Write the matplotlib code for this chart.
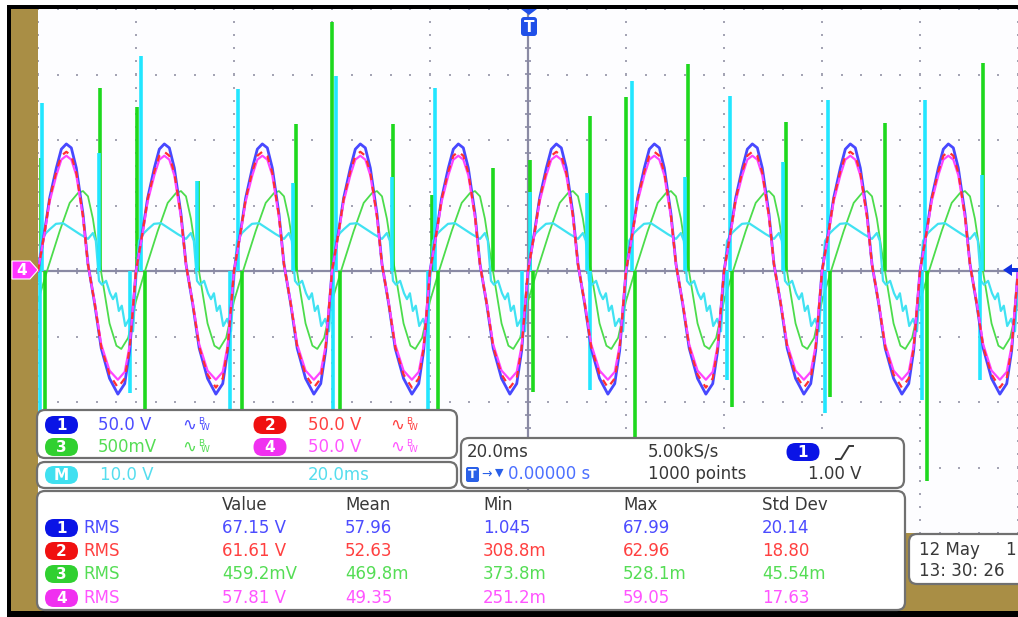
import matplotlib
matplotlib.use('Agg')
import matplotlib.pyplot as plt
from matplotlib.patches import FancyBboxPatch, Rectangle, Polygon
import numpy as np

W, H = 1018, 617

# acquisition settings
period = 20.0          # ms, 50 Hz mains
cycles = list(range(-5, 5))
vdiv = {'1': 50.0, '2': 50.0, '3': 0.5, '4': 50.0, 'M': 10.0}

# one mains cycle, starting at the ch1 rising zero crossing (ms, V)
cycle_t = [0, 1.36, 2.38, 3.74, 4.76, 5.78, 6.8, 7.82, 9.18, 10.2, 11.57, 12.9, 14.6, 16.3, 17.7, 18.7, 20]
ch1_cycle = [0, 30.5, 55.7, 78.6, 93, 97, 94, 78.6, 43.5, 5.3, -25, -59, -82, -94, -86, -61, 0]
ch2_cycle = [0, 30, 55, 76, 88, 91, 88, 75, 42, 5, -25, -58, -79, -89, -82, -59, 0]
ch4_cycle = [0, 29, 53, 73, 85, 88, 85, 73, 41, 5, -24, -56, -76, -83, -77, -57, 0]

ch3_t = [0, 1.84, 4.43, 6.47, 8.16, 9.18, 10.2, 11.2, 12.2, 13.3, 14.6, 16.0, 17.0, 18.4, 20]
ch3_cycle = [-0.23, 0, 0.305, 0.52, 0.595, 0.61, 0.57, 0.40, 0.15, -0.10, -0.40, -0.57, -0.595, -0.51, -0.23]

math_t = [0, 0.61, 1.63, 2.45, 3.67, 5.1, 6.53, 8.57, 10.2, 11.2, 11.8, 12.45, 13.06, 13.9,
          14.7, 15.3, 15.9, 16.5, 17.1, 17.8, 18.6, 19.4, 20]
math_cycle = [-1.5, 4.6, 5.8, 6.4, 7.2, 7.3, 6.6, 5.6, 4.9, 5.8, 4.6, -1.5, -2.1, -1.5,
              -3.4, -4.3, -3.4, -6.1, -5.3, -8.4, -7.3, -9.2, -1.5]

# switching transients on ch3 (ms, tip V)
ch3_spike_t = [-99.39, -87.35, -79.8, -67.35, -47.35, -40.0, -27.55, -19.6, -7.14, 0.41,
               12.65, 20.0, 32.65, 52.65, 72.86, 92.86,
               -98.57, -78.16, -58.37, -38.37, -18.37, 1.02, 21.84, 41.63, 61.63, 81.43]
ch3_spike_v = [0.86, 1.40, 1.25, 0.69, 1.12, 1.90, 1.12, 0.58, 0.79, 0.85,
               1.18, 1.33, 1.58, 1.14, 1.13, 1.59,
               -1.29, -1.29, -1.29, -1.29, -1.29, -0.92, -1.27, -1.04, -0.96, -1.60]

# transients on the math trace (ms, tip V)
math_spike_t = [-99.18, -87.55, -78.98, -67.55, -59.18, -47.96, -39.18, -27.76, -18.98, 0.41,
                12.04, 21.22, 32.04, 41.22, 52.04, 61.22, 81.0, 92.65,
                -99.59, -81.22, -60.82, -39.8, -20.41, -1.22, 12.6, 40.61, 60.61, 80.41, 92.2]
math_spike_v = [25.6, 18.0, 32.8, 13.7, 27.8, 13.4, 29.8, 14.4, 27.9, 12.0,
                11.9, 29.0, 14.4, 26.7, 16.6, 26.1, 26.1, 14.7,
                -23.5, -18.6, -21.2, -22.0, -21.2, -10.1, -18.2, -16.6, -21.7, -19.7, -16.6]

# channel / math settings
ch_labels = ['1', '2', '3', '4']
ch_scale_txt = ['50.0 V', '50.0 V', '500mV', '50.0 V']
math_scale_txt = '10.0 V'
math_time_txt = '20.0ms'

# measurement table
meas_header = ['Value', 'Mean', 'Min', 'Max', 'Std Dev']
rms_value = ['67.15 V', '61.61 V', '459.2mV', '57.81 V']
rms_mean = ['57.96', '52.63', '469.8m', '49.35']
rms_min = ['1.045', '308.8m', '373.8m', '251.2m']
rms_max = ['67.99', '62.96', '528.1m', '59.05']
rms_std = ['20.14', '18.80', '45.54m', '17.63']

badge_col = {'1': '#0a14e6', '2': '#f01010', '3': '#30d030', '4': '#f030f0', 'M': '#40e0f0'}
text_col = {'1': '#4c4cff', '2': '#ff4040', '3': '#55dd55', '4': '#ff55ff', 'M': '#55ddee'}
trace_col = {'1': '#4848ff', '2': '#ff3030', '3': '#4cdc4c', '4': '#ff44ff', 'M': '#40e2f2'}
dark = '#383838'
brown = '#a98e45'


def tile(phase, vals):
    t = [np.array(phase[:-1]) + k * period for k in cycles]
    v = [np.array(vals[:-1])] * len(cycles)
    t.append([phase[-1] + cycles[-1] * period])
    v.append([vals[-1]])
    return np.concatenate(t), np.concatenate(v)


fig = plt.figure(figsize=(W / 100, H / 100), dpi=100, facecolor='white')

# frame behind everything
bg = fig.add_axes([0, 0, 1, 1], zorder=0)
bg.set_xlim(0, W)
bg.set_ylim(H, 0)
bg.axis('off')
bg.add_patch(Rectangle((7, 5), W, H, fc='black', ec='none'))
bg.add_patch(Rectangle((11.5, 9), W, 602, fc=brown, ec='none'))

# scope screen
ax = fig.add_axes([38 / W, (H - 533) / H, 980 / W, 524 / H], zorder=1)
ax.set_xlim(-100, 100)
ax.set_ylim(-4, 4)
ax.set_facecolor('#fdfdff')
for s in ax.spines.values():
    s.set_visible(False)
ax.set_xticks([])
ax.set_yticks([])

major_x = np.arange(-100, 101, 20)
major_y = np.arange(-4, 4.01, 1)
minor_x = np.arange(-100, 100.1, 4)
minor_y = np.arange(-4, 4.01, 0.2)
for mx in major_x:
    if mx != 0:
        ax.scatter(np.full(minor_y.size, mx), minor_y, s=3, marker='s', color='#a4a4b4', lw=0, zorder=1)
for my in major_y:
    if my != 0:
        ax.scatter(minor_x, np.full(minor_x.size, my), s=3, marker='s', color='#a4a4b4', lw=0, zorder=1)
ax.axhline(0, color='#8a8aa4', lw=1.6, zorder=1)
ax.axvline(0, color='#8a8aa4', lw=1.6, zorder=1)
ax.vlines(minor_x, -0.05, 0.05, color='#8a8aa4', lw=1.2, zorder=1)
ax.hlines(minor_y, -0.7, 0.7, color='#8a8aa4', lw=1.2, zorder=1)

t3, v3 = tile(ch3_t, ch3_cycle)
tm, vm = tile(math_t, math_cycle)
t1, v1 = tile(cycle_t, ch1_cycle)
t2, v2 = tile(cycle_t, ch2_cycle)
t4, v4 = tile(cycle_t, ch4_cycle)

ax.plot(t3, v3 / vdiv['3'], color=trace_col['3'], lw=1.3, zorder=2)
ax.vlines(ch3_spike_t, 0, np.array(ch3_spike_v) / vdiv['3'], color='#1ed81e', lw=2.6, zorder=2)
ax.plot(tm, vm / vdiv['M'], color=trace_col['M'], lw=1.6, zorder=3)
ax.vlines(math_spike_t, 0, np.array(math_spike_v) / vdiv['M'], color='#22e6ff', lw=2.6, zorder=3)
ax.plot(t1, v1 / vdiv['1'], color=trace_col['1'], lw=2.0, zorder=4)
ax.plot(t4, v4 / vdiv['4'], color=trace_col['4'], lw=1.6, zorder=5)
ax.plot(t2, v2 / vdiv['2'], color=trace_col['2'], lw=1.6, ls=(0, (3, 3)), zorder=6)

# overlays: markers and readout panels, in pixel units
ov = fig.add_axes([0, 0, 1, 1], zorder=2)
ov.set_xlim(0, W)
ov.set_ylim(H, 0)
ov.axis('off')
ov.patch.set_alpha(0)

FS = 12


def panel(x0, y0, x1, y1, r=8):
    ov.add_patch(FancyBboxPatch((x0, y0), x1 - x0, y1 - y0, boxstyle='round,pad=0,rounding_size=%d' % r,
                                fc='white', ec='#707070', lw=1.6))


def badge(cx, cy, lab, w=33, h=18):
    ov.add_patch(FancyBboxPatch((cx - w / 2, cy - h / 2), w, h, boxstyle='round,pad=0,rounding_size=%g' % (h / 2),
                                fc=badge_col[lab], ec='none'))
    ov.text(cx, cy + 0.5, lab, color='white', fontsize=11, fontweight='bold', ha='center', va='center')


def bw_icon(x, y, c):
    ov.text(x, y, '\u223f', color=c, fontsize=12, ha='left', va='center')
    ov.text(x + 16, y - 4, 'B', color=c, fontsize=6.5, ha='left', va='center')
    ov.text(x + 19, y + 3, 'W', color=c, fontsize=6.5, ha='left', va='center')


# ch4 ground marker, trigger level, trigger position
ov.add_patch(Polygon([(12, 261), (30, 261), (38, 270), (30, 279), (12, 279)], fc='#ff33ff', ec='white', lw=0.8))
ov.text(22, 270.5, '4', color='white', fontsize=11, fontweight='bold', ha='center', va='center')
ov.add_patch(Polygon([(1003, 270), (1012, 264), (1012, 276)], fc='#1030e0', ec='none'))
ov.add_patch(Rectangle((1011, 268), 8, 4, fc='#1030e0', ec='none'))
ov.add_patch(Polygon([(521, 9), (537, 9), (529, 15)], fc='#2050e8', ec='none'))
ov.add_patch(FancyBboxPatch((521, 17), 16, 19, boxstyle='round,pad=0,rounding_size=3', fc='#2050e8', ec='none'))
ov.text(529, 27, 'T', color='white', fontsize=11, fontweight='bold', ha='center', va='center')

# channel scale panel
panel(37, 410, 457, 458)
rows_a = [(425, '1', '2'), (447, '3', '4')]
for y, a, b in rows_a:
    badge(61.5, y, a)
    ov.text(98, y, ch_scale_txt[ch_labels.index(a)], color=text_col[a], fontsize=FS, va='center')
    bw_icon(182, y, text_col[a])
    badge(270, y, b)
    ov.text(308, y, ch_scale_txt[ch_labels.index(b)], color=text_col[b], fontsize=FS, va='center')
    bw_icon(390, y, text_col[b])

# math panel
panel(37, 462, 457, 488)
badge(61.5, 475, 'M')
ov.text(100, 475, math_scale_txt, color=text_col['M'], fontsize=FS, va='center')
ov.text(308, 475, math_time_txt, color=text_col['M'], fontsize=FS, va='center')

# timebase / trigger panel
panel(461, 438, 904, 488)
ov.text(467, 452, '20.0ms', color=dark, fontsize=FS, va='center')
ov.text(648, 452, '5.00kS/s', color=dark, fontsize=FS, va='center')
badge(803, 452, '1')
ov.plot([836, 841, 849, 853], [459, 459, 446, 446], color=dark, lw=1.4)
ov.add_patch(FancyBboxPatch((466, 467), 13, 15, boxstyle='round,pad=0,rounding_size=2', fc='#2a60e8', ec='none'))
ov.text(472.5, 474.5, 'T', color='white', fontsize=9, fontweight='bold', ha='center', va='center')
ov.text(481, 474, '\u2192', color='#2a60e8', fontsize=9, va='center')
ov.text(495, 473, '\u25bc', color='#2a60e8', fontsize=8, va='center')
ov.text(508, 474, '0.00000 s', color='#4c70ff', fontsize=FS, va='center')
ov.text(648, 474, '1000 points', color=dark, fontsize=FS, va='center')
ov.text(808, 474, '1.00 V', color=dark, fontsize=FS, va='center')

# measurement panel
panel(37, 491, 905, 610)
col_x = [222, 345, 483, 623, 762]
for x, h in zip(col_x, meas_header):
    ov.text(x, 505, h, color=dark, fontsize=FS, va='center')
row_y = [528, 551, 574, 598]
for i, lab in enumerate(ch_labels):
    y = row_y[i]
    badge(61.5, y, lab)
    ov.text(83, y, 'RMS', color=text_col[lab], fontsize=FS, va='center')
    vals = [rms_value[i], rms_mean[i], rms_min[i], rms_max[i], rms_std[i]]
    for x, v in zip(col_x, vals):
        ov.text(x, y, v, color=text_col[lab], fontsize=FS, va='center')

# date box (runs off the right edge of the screen)
ov.add_patch(FancyBboxPatch((909, 534), 130, 50, boxstyle='round,pad=0,rounding_size=8',
                            fc='white', ec='#707070', lw=1.6))
ov.text(919, 550, '12 May', color=dark, fontsize=FS, va='center')
ov.text(1005, 550, '1', color=dark, fontsize=FS, va='center')
ov.text(919, 571, '13: 30: 26', color=dark, fontsize=FS, va='center')

fig.savefig('out.png', dpi=100, facecolor=fig.get_facecolor())
